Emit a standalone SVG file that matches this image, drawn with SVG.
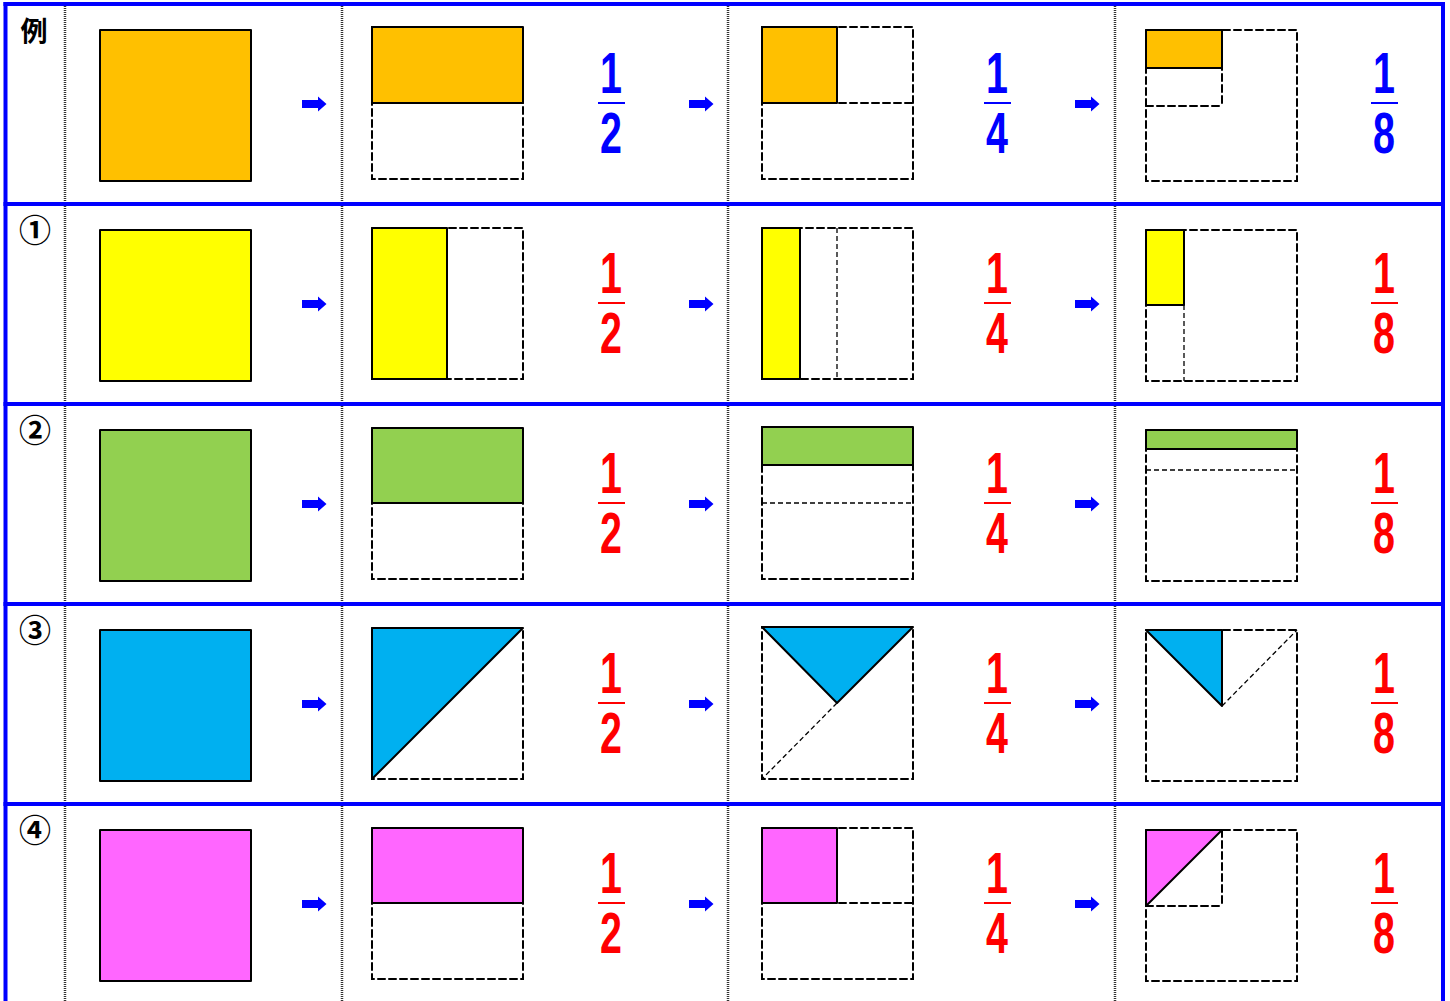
<svg xmlns="http://www.w3.org/2000/svg" xmlns:xlink="http://www.w3.org/1999/xlink" width="1450" height="1001" viewBox="0 0 1450 1001">
<style>
.bg{fill:#fff}
.grid{stroke:#0000FF;stroke-width:4;fill:none}
.div{stroke:#333;stroke-width:2.5;stroke-dasharray:1 1;fill:none}
.sh{stroke:#000;stroke-width:2;stroke-linejoin:round}
.dash{stroke:#000;stroke-width:2;stroke-dasharray:7 4;fill:none;stroke-linecap:round}
.thin{stroke:#000;stroke-width:1.3;stroke-dasharray:5 3;fill:none}
.lbl{font-family:"Noto Sans CJK JP","Noto Sans CJK SC",sans-serif;font-weight:bold;font-size:27px;text-anchor:middle;fill:#000}
.circ{font-family:"Noto Sans CJK JP","Noto Sans CJK SC",sans-serif;font-weight:bold;font-size:32px;text-anchor:middle;fill:#000}
.num{font-family:"Liberation Sans",Arial,sans-serif;font-weight:bold;font-size:58px;text-anchor:middle}
.blue{fill:#0000FF}
.red{fill:#FF0000}
.arr{fill:#0000FF}
</style>
<defs>
<path id="arrow" d="M0,-4 H16 V-7.5 L24.5,0 L16,7.5 V4 H0 Z" class="arr"/>
</defs>
<rect class="bg" x="0" y="0" width="1450" height="1001"/>

<g id="connectors">
<use xlink:href="#arrow" x="302" y="104"/><use xlink:href="#arrow" x="689" y="104"/><use xlink:href="#arrow" x="1075" y="104"/>
<use xlink:href="#arrow" x="302" y="304"/><use xlink:href="#arrow" x="689" y="304"/><use xlink:href="#arrow" x="1075" y="304"/>
<use xlink:href="#arrow" x="302" y="504"/><use xlink:href="#arrow" x="689" y="504"/><use xlink:href="#arrow" x="1075" y="504"/>
<use xlink:href="#arrow" x="302" y="704"/><use xlink:href="#arrow" x="689" y="704"/><use xlink:href="#arrow" x="1075" y="704"/>
<use xlink:href="#arrow" x="302" y="904"/><use xlink:href="#arrow" x="689" y="904"/><use xlink:href="#arrow" x="1075" y="904"/>
</g>

<g id="table">
<line class="div" x1="65" y1="4" x2="65" y2="1001"/>
<line class="div" x1="342" y1="4" x2="342" y2="1001"/>
<line class="div" x1="728" y1="4" x2="728" y2="1001"/>
<line class="div" x1="1115" y1="4" x2="1115" y2="1001"/>
<line class="grid" x1="3.5" y1="4" x2="1445" y2="4"/>
<line class="grid" x1="5.5" y1="2" x2="5.5" y2="1001"/>
<line class="grid" x1="1443" y1="2" x2="1443" y2="1001"/>
<line class="grid" x1="3.5" y1="204" x2="1445" y2="204"/>
<line class="grid" x1="3.5" y1="404" x2="1445" y2="404"/>
<line class="grid" x1="3.5" y1="604" x2="1445" y2="604"/>
<line class="grid" x1="3.5" y1="804" x2="1445" y2="804"/>
</g>

<g id="row0">
<text class="lbl" x="34" y="41">例</text>
<rect class="sh" x="100" y="30" width="151" height="151" fill="#FFC000"/>
<rect class="dash" x="372" y="27" width="151" height="152"/>
<rect class="sh" x="372" y="27" width="151" height="76" fill="#FFC000"/>
<g transform="translate(611,0)">
<text class="num blue" transform="translate(0,93) scale(0.68,1)">1</text>
<rect x="-13" y="102" width="27" height="2" fill="#0000FF"/>
<text class="num blue" transform="translate(0,153) scale(0.68,1)">2</text>
</g>
<rect class="dash" x="762" y="27" width="151" height="152"/>
<line class="dash" x1="762" y1="103" x2="913" y2="103"/>
<rect class="sh" x="762" y="27" width="75" height="76" fill="#FFC000"/>
<g transform="translate(997,0)">
<text class="num blue" transform="translate(0,93) scale(0.68,1)">1</text>
<rect x="-13" y="102" width="27" height="2" fill="#0000FF"/>
<text class="num blue" transform="translate(0,153) scale(0.68,1)">4</text>
</g>
<rect class="dash" x="1146" y="30" width="151" height="151"/>
<line class="dash" x1="1146" y1="106" x2="1222" y2="106"/>
<line class="dash" x1="1222" y1="30" x2="1222" y2="106"/>
<rect class="sh" x="1146" y="30" width="76" height="38" fill="#FFC000"/>
<g transform="translate(1384,0)">
<text class="num blue" transform="translate(0,93) scale(0.68,1)">1</text>
<rect x="-13" y="102" width="27" height="2" fill="#0000FF"/>
<text class="num blue" transform="translate(0,153) scale(0.68,1)">8</text>
</g>
</g>

<g id="row1">
<text class="circ" x="35" y="242">①</text>
<rect class="sh" x="100" y="230" width="151" height="151" fill="#FFFF00"/>
<rect class="dash" x="372" y="228" width="151" height="151"/>
<rect class="sh" x="372" y="228" width="75" height="151" fill="#FFFF00"/>
<g transform="translate(611,200)">
<text class="num red" transform="translate(0,93) scale(0.68,1)">1</text>
<rect x="-13" y="102" width="27" height="2" fill="#FF0000"/>
<text class="num red" transform="translate(0,153) scale(0.68,1)">2</text>
</g>
<rect class="dash" x="762" y="228" width="151" height="151"/>
<line class="thin" x1="837" y1="228" x2="837" y2="379"/>
<rect class="sh" x="762" y="228" width="38" height="151" fill="#FFFF00"/>
<g transform="translate(997,200)">
<text class="num red" transform="translate(0,93) scale(0.68,1)">1</text>
<rect x="-13" y="102" width="27" height="2" fill="#FF0000"/>
<text class="num red" transform="translate(0,153) scale(0.68,1)">4</text>
</g>
<rect class="dash" x="1146" y="230" width="151" height="151"/>
<line class="thin" x1="1184" y1="305" x2="1184" y2="381"/>
<rect class="sh" x="1146" y="230" width="38" height="75" fill="#FFFF00"/>
<g transform="translate(1384,200)">
<text class="num red" transform="translate(0,93) scale(0.68,1)">1</text>
<rect x="-13" y="102" width="27" height="2" fill="#FF0000"/>
<text class="num red" transform="translate(0,153) scale(0.68,1)">8</text>
</g>
</g>

<g id="row2">
<text class="circ" x="35" y="442">②</text>
<rect class="sh" x="100" y="430" width="151" height="151" fill="#92D050"/>
<rect class="dash" x="372" y="428" width="151" height="151"/>
<rect class="sh" x="372" y="428" width="151" height="75" fill="#92D050"/>
<g transform="translate(611,400)">
<text class="num red" transform="translate(0,93) scale(0.68,1)">1</text>
<rect x="-13" y="102" width="27" height="2" fill="#FF0000"/>
<text class="num red" transform="translate(0,153) scale(0.68,1)">2</text>
</g>
<rect class="dash" x="762" y="427" width="151" height="152"/>
<line class="thin" x1="762" y1="503" x2="913" y2="503"/>
<rect class="sh" x="762" y="427" width="151" height="38" fill="#92D050"/>
<g transform="translate(997,400)">
<text class="num red" transform="translate(0,93) scale(0.68,1)">1</text>
<rect x="-13" y="102" width="27" height="2" fill="#FF0000"/>
<text class="num red" transform="translate(0,153) scale(0.68,1)">4</text>
</g>
<rect class="dash" x="1146" y="430" width="151" height="151"/>
<line class="thin" x1="1146" y1="470" x2="1297" y2="470"/>
<rect class="sh" x="1146" y="430" width="151" height="19" fill="#92D050"/>
<g transform="translate(1384,400)">
<text class="num red" transform="translate(0,93) scale(0.68,1)">1</text>
<rect x="-13" y="102" width="27" height="2" fill="#FF0000"/>
<text class="num red" transform="translate(0,153) scale(0.68,1)">8</text>
</g>
</g>

<g id="row3">
<text class="circ" x="35" y="642">③</text>
<rect class="sh" x="100" y="630" width="151" height="151" fill="#00B0F0"/>
<rect class="dash" x="372" y="628" width="151" height="151"/>
<polygon class="sh" points="372,628 523,628 372,779" fill="#00B0F0"/>
<g transform="translate(611,600)">
<text class="num red" transform="translate(0,93) scale(0.68,1)">1</text>
<rect x="-13" y="102" width="27" height="2" fill="#FF0000"/>
<text class="num red" transform="translate(0,153) scale(0.68,1)">2</text>
</g>
<rect class="dash" x="762" y="627" width="151" height="152"/>
<line class="thin" x1="837" y1="703" x2="762" y2="779"/>
<polygon class="sh" points="762,627 913,627 837,703" fill="#00B0F0"/>
<g transform="translate(997,600)">
<text class="num red" transform="translate(0,93) scale(0.68,1)">1</text>
<rect x="-13" y="102" width="27" height="2" fill="#FF0000"/>
<text class="num red" transform="translate(0,153) scale(0.68,1)">4</text>
</g>
<rect class="dash" x="1146" y="630" width="151" height="151"/>
<line class="thin" x1="1222" y1="706" x2="1297" y2="630"/>
<polygon class="sh" points="1146,630 1222,630 1222,706" fill="#00B0F0"/>
<g transform="translate(1384,600)">
<text class="num red" transform="translate(0,93) scale(0.68,1)">1</text>
<rect x="-13" y="102" width="27" height="2" fill="#FF0000"/>
<text class="num red" transform="translate(0,153) scale(0.68,1)">8</text>
</g>
</g>

<g id="row4">
<text class="circ" x="35" y="842">④</text>
<rect class="sh" x="100" y="830" width="151" height="151" fill="#FF66FF"/>
<rect class="dash" x="372" y="828" width="151" height="151"/>
<rect class="sh" x="372" y="828" width="151" height="75" fill="#FF66FF"/>
<g transform="translate(611,800)">
<text class="num red" transform="translate(0,93) scale(0.68,1)">1</text>
<rect x="-13" y="102" width="27" height="2" fill="#FF0000"/>
<text class="num red" transform="translate(0,153) scale(0.68,1)">2</text>
</g>
<rect class="dash" x="762" y="828" width="151" height="151"/>
<line class="dash" x1="762" y1="903" x2="913" y2="903"/>
<rect class="sh" x="762" y="828" width="75" height="75" fill="#FF66FF"/>
<g transform="translate(997,800)">
<text class="num red" transform="translate(0,93) scale(0.68,1)">1</text>
<rect x="-13" y="102" width="27" height="2" fill="#FF0000"/>
<text class="num red" transform="translate(0,153) scale(0.68,1)">4</text>
</g>
<rect class="dash" x="1146" y="830" width="151" height="151"/>
<line class="dash" x1="1146" y1="906" x2="1222" y2="906"/>
<line class="dash" x1="1222" y1="830" x2="1222" y2="906"/>
<polygon class="sh" points="1146,830 1222,830 1146,906" fill="#FF66FF"/>
<g transform="translate(1384,800)">
<text class="num red" transform="translate(0,93) scale(0.68,1)">1</text>
<rect x="-13" y="102" width="27" height="2" fill="#FF0000"/>
<text class="num red" transform="translate(0,153) scale(0.68,1)">8</text>
</g>
</g>
</svg>
